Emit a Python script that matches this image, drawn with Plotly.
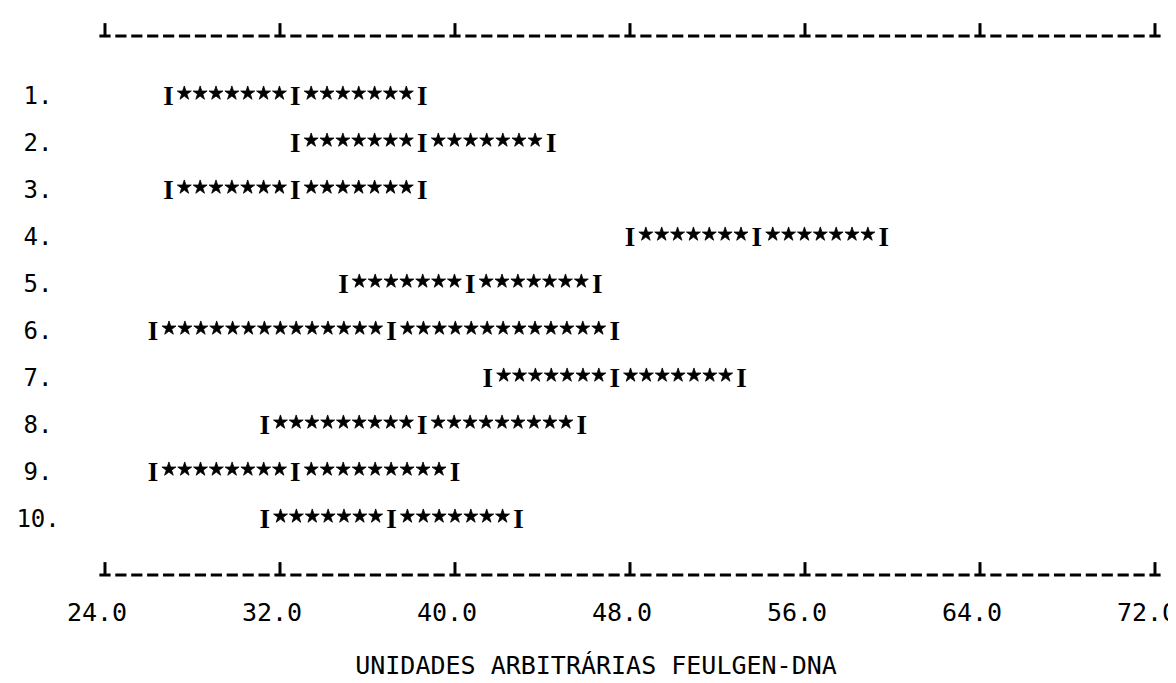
import numpy as np
import plotly.graph_objects as go

# ---- data ----
row_labels = ["1.", "2.", "3.", "4.", "5.", "6.", "7.", "8.", "9.", "10."]
row_pos = [1, 2, 3, 4, 5, 6, 7, 8, 9, 10]
lower = [26.9, 32.7, 26.9, 48.0, 34.9, 26.2, 41.5, 31.3, 26.2, 31.3]
mean = [32.7, 38.5, 32.7, 53.8, 40.7, 37.1, 47.3, 38.5, 32.7, 37.1]
upper = [38.5, 44.4, 38.5, 59.6, 46.5, 47.3, 53.1, 45.8, 40.0, 42.9]
tick_vals = [24, 32, 40, 48, 56, 64, 72]
tick_text = ["24.0", "32.0", "40.0", "48.0", "56.0", "64.0", "72.0"]
x_title = "UNIDADES ARBITRÁRIAS FEULGEN-DNA"

# ---- layout constants ----
COL = 8 / 11              # one printer column in data units
X_RANGE = [19.566, 73.326]
Y_RANGE = [11.149, -0.915]
Y_TOP_LINE = -0.319
Y_BOT_LINE = 11.149
LABEL_X = 20.94
STAR_RAISE = 0.1
TICK_RAISE = 0.14
MONO = "DejaVu Sans Mono"

fig = go.Figure()

# stars between the I markers
sx, sy = [], []
for k, lo, m, up in zip(row_pos, lower, mean, upper):
    for a, b in ((lo, m), (m, up)):
        n = int(round((b - a) / COL)) - 1
        pts = np.linspace(a, b, n + 2)[1:-1]
        sx.extend(pts.tolist())
        sy.extend([k - STAR_RAISE] * n)
fig.add_trace(go.Scatter(
    x=sx, y=sy, mode="markers",
    marker=dict(symbol="star", size=10.5, color="black", line=dict(width=0.8, color="black")),
    hoverinfo="skip", showlegend=False))

# I markers (lower, mean, upper)
ix, iy = [], []
for k, lo, m, up in zip(row_pos, lower, mean, upper):
    ix.extend([lo, m, up])
    iy.extend([k, k, k])
fig.add_trace(go.Scatter(
    x=ix, y=iy, mode="text", text=["I"] * len(ix),
    textposition="middle center",
    textfont=dict(family="Liberation Serif", size=27, color="black", weight="bold"),
    hoverinfo="skip", showlegend=False))

# row labels
fig.add_trace(go.Scatter(
    x=[LABEL_X] * len(row_pos), y=row_pos, mode="text", text=row_labels,
    textposition="middle center",
    textfont=dict(family=MONO, size=24, color="black"),
    hoverinfo="skip", showlegend=False))

# dashed printer axis lines (top and bottom)
cols = np.linspace(tick_vals[0], tick_vals[-1], int(round((tick_vals[-1] - tick_vals[0]) / COL)) + 1)
for yl in (Y_TOP_LINE, Y_BOT_LINE):
    fig.add_trace(go.Scatter(
        x=cols, y=[yl] * len(cols), mode="markers",
        marker=dict(symbol="line-ew", size=8, color="black",
                    line=dict(width=3, color="black")),
        hoverinfo="skip", showlegend=False, cliponaxis=False))
    fig.add_trace(go.Scatter(
        x=tick_vals, y=[yl - TICK_RAISE] * len(tick_vals), mode="markers",
        marker=dict(symbol="line-ns", size=9, color="black",
                    line=dict(width=3, color="black")),
        hoverinfo="skip", showlegend=False, cliponaxis=False))

fig.update_layout(
    width=1176, height=683,
    margin=dict(l=0, r=0, t=0, b=116),
    paper_bgcolor="white", plot_bgcolor="white",
    showlegend=False,
    xaxis=dict(
        range=X_RANGE, showgrid=False, zeroline=False, showline=False,
        tickmode="array", tickvals=tick_vals, ticktext=tick_text,
        ticks="", ticklabelstandoff=20, ticklabelshift=-8,
        tickfont=dict(family=MONO, size=25, color="black"),
        title=dict(text=x_title, font=dict(family=MONO, size=25, color="black"),
                   standoff=30),
        fixedrange=True,
    ),
    yaxis=dict(
        range=Y_RANGE, showgrid=False, zeroline=False, showline=False,
        showticklabels=False, ticks="", fixedrange=True,
    ),
)

fig.write_html("out.html")
